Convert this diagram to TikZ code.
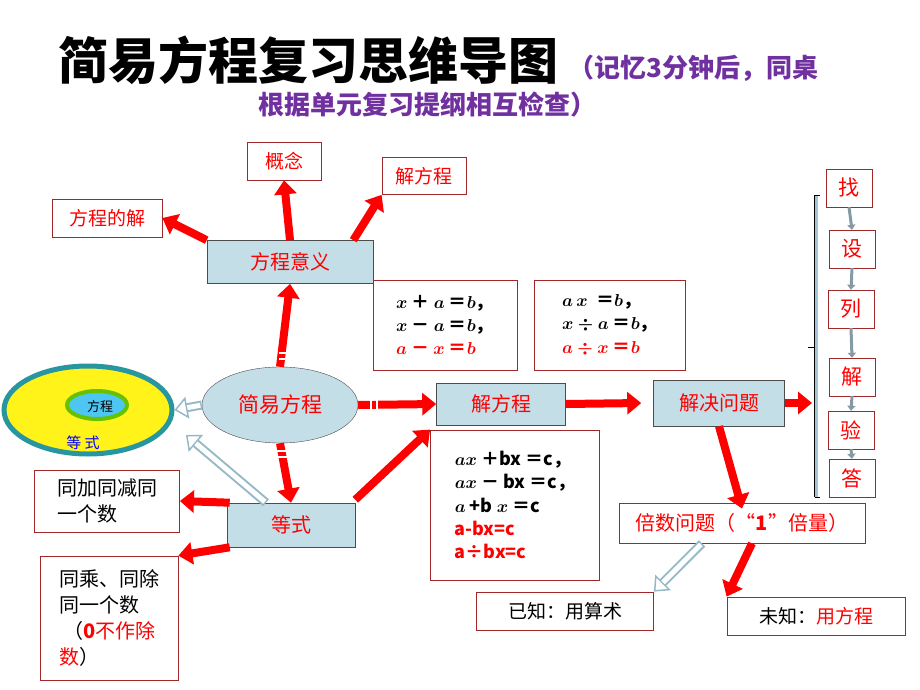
\documentclass[tikz,border=0pt]{standalone}
\usepackage{amsmath}
\usepackage{fontspec}
\setmainfont{Liberation Serif}
\newfontfamily\cjk{Noto Sans CJK SC}
\usetikzlibrary{arrows.meta,shapes.geometric}
\definecolor{boxblue}{RGB}{196,222,232}
\definecolor{boxline}{RGB}{160,40,40}
\definecolor{titlepurple}{RGB}{112,48,160}
\definecolor{hollowc}{RGB}{150,185,200}
\definecolor{rimteal}{RGB}{40,150,160}
\newcommand{\fsz}[1]{\fontsize{#1}{1.3\dimexpr#1pt\relax}\selectfont}
\tikzset{
  lbl/.style={draw=boxline, fill=white, line width=0.8pt, inner sep=0pt, font=\cjk\fsz{19}},
  blu/.style={draw=black!70, fill=boxblue, line width=0.6pt, text=red, font=\cjk\fsz{20}},
  fat/.style={red, line width=8pt, -{Triangle[length=14pt,width=22pt]}},
  stepbox/.style={draw=boxline, fill=white, minimum width=46pt, minimum height=38pt, text=red, font=\cjk\fsz{21}},
  small/.style={gray!80!cyan, line width=3pt, -{Triangle[length=5pt,width=8pt]}}
}
\newcommand{\hollow}[2]{%
  \draw[line width=9pt,hollowc,-{Triangle[open,fill=white,line width=1.5pt,length=13pt,width=22pt]}] (#1) -- (#2);
  \draw[line width=5pt,white,shorten >=13pt,shorten <=1.5pt] (#1) -- (#2);}
\begin{document}
\begin{tikzpicture}[x=1pt,y=-1pt]
\useasboundingbox (0,0) rectangle (920,690);
\fill[white] (0,0) rectangle (920,690);

% title
\node[anchor=west, font=\cjk\bfseries\fsz{50}] (title) at (55,60) {简易方程复习思维导图};
\node[anchor=west, text=titlepurple, font=\cjk\bfseries\fsz{26}] (sub1) at (565,68) {（记忆3分钟后，同桌};
\node[anchor=west, text=titlepurple, font=\cjk\bfseries\fsz{26}] (sub2) at (255,105) {根据单元复习提纲相互检查）};

% upper branch
\node[lbl, minimum width=74pt, minimum height=38pt, text=red, font=\cjk\itshape\fsz{19}] (gainian) at (284,161) {概念};
\node[lbl, minimum width=84pt, minimum height=37pt, text=red, font=\cjk\itshape\fsz{19}] (jiefc1) at (424,176) {解方程};
\node[lbl, minimum width=110pt, minimum height=38pt, text=red, font=\cjk\itshape\fsz{19}] (jie) at (107,218) {方程的解};
\node[blu, minimum width=166pt, minimum height=43pt] (yiyi) at (290,262) {方程意义};

\node[lbl, minimum width=144pt, minimum height=90pt, font=\cjk\bfseries\fsz{18}, align=left] (eqa) at (445,325)
  {$\boldsymbol{x}$ ＋ $\boldsymbol{a}$ ＝$\boldsymbol{b}$，\\ $\boldsymbol{x}$ － $\boldsymbol{a}$ ＝$\boldsymbol{b}$，\\ \textcolor{red}{$\boldsymbol{a}$ － $\boldsymbol{x}$ ＝$\boldsymbol{b}$}};
\node[lbl, minimum width=151pt, minimum height=90pt, font=\cjk\bfseries\fsz{18}, align=left] (eqb) at (610,325)
  {$\boldsymbol{a\,x}$ \ ＝$\boldsymbol{b}$，\\ $\boldsymbol{x\div a}$ ＝$\boldsymbol{b}$，\\ \textcolor{red}{$\boldsymbol{a\div x}$ ＝$\boldsymbol{b}$}};

% centre
\node[ellipse, draw=black!70, fill=boxblue, minimum width=156pt, minimum height=76pt, text=red, font=\cjk\fsz{21}] (jianyi) at (280,405) {简易方程};
\node[ellipse, draw=rimteal, line width=5pt, fill=yellow!90!white, minimum width=168pt, minimum height=88pt] (dengshi0) at (88,410) {};
\node[ellipse, draw=green!60!black!60!yellow, line width=4pt, fill=cyan!70!white, minimum width=60pt, minimum height=28pt] (fc0) at (97,405) {};
\node[font=\cjk\fsz{13}] (fctext) at (100,407) {方程};
\node[text=blue, font=\cjk\fsz{15}] (dstext) at (83,443) {等\ 式};

\node[blu, minimum width=129pt, minimum height=42pt] (jiefc) at (501,404) {解方程};
\node[blu, minimum width=131pt, minimum height=46pt] (wenti) at (719,403) {解决问题};
\node[lbl, minimum width=169pt, minimum height=150pt, font=\cjk\bfseries\fsz{18}, align=left] (eqc) at (515,505)
  {$\boldsymbol{ax}$ ＋bx ＝c，\\ $\boldsymbol{ax}$ － bx ＝c，\\ $\boldsymbol{a}$ +b $\boldsymbol{x}$ ＝c\\ \textcolor{red}{a-bx=c}\\ \textcolor{red}{a÷bx=c}};

\node[blu, minimum width=128pt, minimum height=44pt] (dengshi) at (291,525) {等式};
\node[lbl, minimum width=145pt, minimum height=62pt, align=left, font=\cjk\fsz{20}] (jiajian) at (107,501) {同加同减同\\一个数};
\node[lbl, minimum width=138pt, minimum height=124pt, align=left, font=\cjk\fsz{20}] (chengchu) at (109,618)
  {同乘、同除\\同一个数\\\ （\textcolor{red}{\textbf{0}不作除}\\\textcolor{red}{数}）};

\node[lbl, minimum width=246pt, minimum height=40pt, text=red, font=\cjk\fsz{20}] (beishu) at (742,523) {倍数问题（“\textbf{1}”倍量）};
\node[lbl, minimum width=177pt, minimum height=38pt, font=\cjk\fsz{19}] (yizhi) at (565,611) {已知：用算术};
\node[lbl, minimum width=178pt, minimum height=38pt, font=\cjk\fsz{19}] (weizhi) at (816,616) {未知：\textcolor{red}{用方程}};

% steps
\node[stepbox] (s1) at (849,188) {找};
\node[stepbox] (s2) at (852,249) {设};
\node[stepbox] (s3) at (851,309) {列};
\node[stepbox] (s4) at (852,377) {解};
\node[stepbox] (s5) at (851,430) {验};
\node[stepbox] (s6) at (852,478) {答};
\foreach \a/\b in {s1/s2,s2/s3,s3/s4,s4/s5,s5/s6}
  \draw[small] (\a.south) -- (\b.north);
\coordinate (bt) at (816,195);
\coordinate (bb) at (816,497);
\draw[cyan!40!gray!60, line width=3pt] (bt) -- (bb);
\draw[black, line width=0.6pt] ([xshift=-1.5pt]bt) -- ([xshift=-1.5pt]bb);
\draw[black, line width=0.6pt] ([xshift=-1.5pt]bt) -- ++(5,0) ([xshift=-1.5pt]bb) -- ++(5,0);
\draw[black, line width=0.6pt] (808,347) -- (814,347);
\coordinate (bm) at (812,403);

% arrows
\draw[fat] (yiyi.north) -- (gainian.south);
\draw[fat] ([xshift=-20pt]yiyi.north east) -- (jiefc1.south west);
\draw[fat] (yiyi.north west) -- (jie.east);
\draw[fat] (jianyi.north) -- (yiyi.south);
\draw[fat] (jianyi.east) -- (jiefc.west);
\draw[fat] (jianyi.south) -- (dengshi.north);
\draw[fat] ([yshift=3pt]dengshi.north east) -- (eqc.north west);
\draw[fat] (dengshi.160) -- (jiajian.east);
\draw[fat] (dengshi.200) -- (chengchu.north east);
\draw[fat] (jiefc.east) -- ([xshift=-12pt]wenti.west);
\draw[fat] (wenti.east) -- (bm);
\draw[fat] (wenti.south) -- ([yshift=-6pt]beishu.north);
\draw[fat] ([xshift=10pt]beishu.south) -- (weizhi.north west);
% stripes at arrow bases
\foreach \y in {353,359} \draw[white, line width=1.5pt] (279,\y) -- (291,\y);
\foreach \y in {451,457} \draw[white, line width=1.5pt] (277,\y) -- (289,\y);
\foreach \x in {371,377} \draw[white, line width=1.5pt] (\x,399) -- (\x,411);
\hollow{jianyi.west}{dengshi0.east}
\hollow{[xshift=-25pt]dengshi.north}{186,435}
\hollow{[xshift=-40pt]beishu.south}{yizhi.north east}
\end{tikzpicture}
\end{document}
